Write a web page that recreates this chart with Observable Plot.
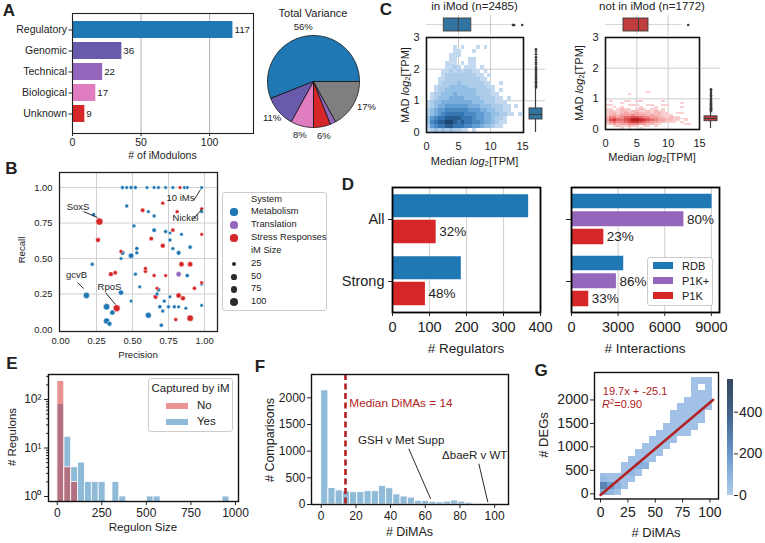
<!DOCTYPE html>
<html><head><meta charset="utf-8">
<script src="https://cdn.jsdelivr.net/npm/d3@7"></script>
<script src="https://cdn.jsdelivr.net/npm/@observablehq/plot@0.6"></script>
<style>
html,body{margin:0;padding:0;background:#fff;}
#fig{position:relative;width:765px;height:543px;overflow:hidden;background:#fff;font-family:'Liberation Sans',Arial,Helvetica,sans-serif;color:#222;}
.lg{position:absolute;background:#fff;border:1px solid #cccccc;border-radius:3px;box-sizing:border-box;}
.sw{position:absolute;}
sub{font-size:70%;line-height:0;vertical-align:-0.25em;}
sup{font-size:70%;line-height:0;vertical-align:0.45em;}
</style></head><body><div id="fig"></div>
<script>
// ================= DATA =================
// A: iModulon categories
const aCats = ["Regulatory","Genomic","Technical","Biological","Unknown"];
const aCounts = [117,36,22,17,9];
const aColors = ["#1f77b4","#6a5aab","#9467bd","#e07cc0","#d62728"];
// A: explained variance pie
const pieNames = ["Regulatory","Genomic","Biological","Unknown","Technical","Unexplained"];
const pieShares = [56,11,8,6,2,17];
const pieColors = ["#1f77b4","#6a5aab","#e07cc0","#d62728","#9467bd","#7f7f7f"];
const pieLabels = ["56%","11%","8%","6%","","17%"];

// B: precision / recall scatter
const bPrec = [0.43,0.46,0.49,0.52,0.60,0.65,0.68,0.73,0.78,0.83,0.86,0.88,0.98,
  0.46,0.23,0.27,0.26,0.22,0.18,
  0.42,0.43,0.42,0.49,0.51,0.53,0.53,0.52,0.55,0.42,
  0.35,0.38,0.49,0.32,0.36,0.32,0.34,0.39,
  0.57,0.61,0.65,0.71,0.81,0.98,0.98,
  0.63,0.65,0.73,0.76,0.78,0.76,0.84,0.71,0.78,0.82,0.90,0.98,
  0.59,0.59,0.65,0.73,0.84,0.90,0.82,0.88,0.98,0.98,
  0.67,0.68,0.67,0.66,0.72,0.76,0.82,0.85,0.93,
  0.69,0.75,0.79,0.82,0.87,0.98,0.71,0.61,
  0.80,0.90,0.70];
const bRec = [1,1,1,1,1,1,1,1,1,1,1,1,1,
  0.87,0.81,0.76,0.63,0.46,0.24,
  0.55,0.54,0.50,0.52,0.73,0.57,0.54,0.39,0.30,0.26,
  0.39,0.40,0.20,0.16,0.12,0.06,0.04,0.15,
  0.84,0.83,0.80,0.89,0.83,0.85,0.83,
  0.64,0.70,0.69,0.68,0.70,0.63,0.67,0.59,0.57,0.54,0.58,0.67,
  0.43,0.41,0.38,0.38,0.46,0.46,0.39,0.38,0.33,0.32,
  0.29,0.28,0.25,0.23,0.20,0.23,0.24,0.22,0.29,
  0.16,0.16,0.16,0.16,0.15,0.17,0.13,0.10,
  0.07,0.08,0.03];
const bSys = ("MMMMMMMMMSMMM"+"MMSSMM"+"SMMMMMMMMM"+"SSMMMMMS"+"SMMSSSM"+"SMMMSMMSMMMS"+"SSSSSSTMSM"+"SMMSMMSSS"+"MMMMMMMM"+"SSM").split("");
const bSize = [15,10,15,15,10,10,10,10,10,10,10,10,10,
  15,15,80,35,15,60,
  15,35,10,45,15,20,15,15,10,40,
  35,25,10,65,40,60,35,75,
  25,10,15,15,15,15,10,
  25,25,15,10,20,15,10,35,15,30,20,10,
  15,20,15,10,40,40,40,20,10,15,
  10,25,15,35,15,10,40,35,20,
  20,15,15,10,10,10,15,55,
  15,65,20];
const bSystems = ["Metabolism","Translation","Stress Responses"];
const bSysCodes = ["M","T","S"];
const bSysColors = ["#1f77b4","#9467bd","#d62728"];
const bSizeLegend = [25,50,75,100];
const bAnnText = ["10 iMs","Nickel","SoxS","gcvB","RpoS"];
const bAnnAt = [[0.833,0.93],[0.868,0.787],[0.122,0.861],[0.111,0.387],[0.34,0.298]];
const bAnnFrom = [[0.924,0.908],[0.917,0.775],[0.16,0.831],[0.118,0.331],[0.313,0.26]];
const bAnnTo = [[0.972,0.986],[0.986,0.852],[0.257,0.789],[0.16,0.289],[0.382,0.176]];

// C: 2D histograms (rows top->bottom; digit = density level) and marginal box stats
const cBinX = 0.6;
const cInRows = [
"0000000000000000000000000",
"0000000000000000000000000",
"0000000101000101000000000",
"0000000110001000000000000",
"0000001110000000000000000",
"0000001100011000000000000",
"0000011101011000000000000",
"0000011210111010000000000",
"0000112121221101000000000",
"0000122222222110100000000",
"0001122222222211000000000",
"0001222232222221100100000",
"0012223333322222110000000",
"0012233333333222210100000",
"0122333433333222211000000",
"0123334444333322221101000",
"1233444444443332221110000",
"1234455555544433322211010",
"2345566666655544332211000",
"2345677777666554433221101",
"3567788887776554432210000",
"3678899878776654432110000",
"2567788777665543321100000",
"1232323221101000000000000"];
const cInStepY = 0.125;
const cOutRows = [
"0000000000000000000000000",
"0000000000010000000000000",
"0000001000000000000000000",
"0000000000000000000000000",
"0000000000000000000000000",
"0000000000000000000000000",
"0100011011000001000000000",
"0000100000000000000010000",
"1100001110011001100000000",
"0010100001000100000010000",
"1101211012101101000000000",
"1211221221121211000000000",
"1221232232221221100110000",
"1232333433323221110000000",
"2443455665443322121100000",
"3565467897654432221211000",
"3675567998765433221101000",
"2454456776543322111010000",
"1232334443322110000001100",
"0012112110110100000000000",
"0000101001000000000000000"];
const cOutStepY = 0.0625;
const cInTop = {q1:2.7, med:4.95, q3:7.0, lo:0.0, hi:13.4};
const cInTopOut = [13.5,13.6,13.7,14.95];
const cInSide = {q1:0.41, med:0.57, q3:0.76, lo:0.0, hi:1.39};
const cInSideOut = [1.42,1.46,1.5,1.54,1.58,1.62,1.67,1.72,1.77,1.82,1.88,1.94,2.0,2.07,2.15,2.22,2.3,2.38,2.47,2.56,2.63];
const cOutTop = {q1:2.87, med:5.26, q3:6.86, lo:0.0, hi:12.2};
const cOutTopOut = [13.2];
const cOutSide = {q1:0.27, med:0.36, q3:0.43, lo:0.03, hi:0.57};
const cOutSideOut = [0.6,0.63,0.66,0.69,0.72,0.75,0.78,0.82,0.86,0.9,0.95,1.0,1.06,1.12,1.19,1.26,1.31];

// D: regulators & interactions
const dGroups = ["All","Strong"];
const dRegRDB = [368,186];
const dRegP1K = [118,89];
const dRegPct = ["32%","48%"];
const dIntRDB = [9040,3360];
const dIntP1Kp = [7230,2890];
const dIntP1K = [2080,1110];
const dIntPctP = ["80%","86%"];
const dIntPctK = ["23%","33%"];
const dSeries = ["RDB","P1K+","P1K"];
const dColors = ["#1f77b4","#9467bd","#d62728"];

// E: regulon size histogram (log counts)
const eBinStart = 1, eBinWidth = 38.6;
const eYes = [80,17,4,5,2,2,2,0,2,1,0,0,0,1,1,0,0,0,0,0,0,0,0,0,1];
const eNo  = [240,4,2,0,0,0,0,0,0,0,0,0,0,0,0,0,0,0,0,0,0,0,0,0,0];
const eSup = {1:"10⁰",10:"10¹",100:"10²"};
const eMinor = [2,3,4,5,6,7,8,9,20,30,40,50,60,70,80,90,200,300];

// F: DiMA histogram
const fBinWidth = 4.16;
const fCounts = [2140,310,265,245,230,232,250,250,350,305,190,150,130,70,65,50,40,55,75,55,35,12,12,8,5];
const fMedian = 14;
const fMedianText = "Median DiMAs = 14";
const fAnnText = ["GSH v Met Supp","ΔbaeR v WT"];
const fAnnAt = [[46.1,1200],[88.5,919]];
const fAnnFrom = [[50.5,1044],[90.9,763]];
const fAnnTo = [[63.1,107],[96.1,43]];

// G: DEGs vs DiMAs 2D histogram (column bins of 6.4 DiMAs)
const gBinW = 6.4;
const gSegs = [[0,-40,440],[1,-40,440],[2,-40,440],[3,100,660],[4,240,800],[5,380,940],[6,520,1080],
  [7,660,1220],[8,800,1360],[9,940,1500],[10,1080,1780],[11,1220,1920],[12,1220,2060],[13,1360,2480],
  [14,1500,2200],[14,2340,2480],[15,1780,2480]];
const gBaseCount = 35;
const gDense = [[0,100,240,260],[1,100,240,170],[2,100,240,90],[0,-40,100,120],[1,-40,100,80],
  [0,240,380,70],[4,380,520,70],[5,520,660,110],[6,520,660,100]];
const gSlope = 19.7, gIntercept = -25.1, gFitX = [0,103];
const gEq = "19.7x + -25.1";
const gColorDomain = [0,180,370,557];
const gColorRange = ["#aecbeb","#6d9ccf","#43658f","#34465c"];

// ================= HELPERS =================
const FONT = "'Liberation Sans', Arial, Helvetica, sans-serif";
const INK = "#222";
const BOXINK = "#3d3d3d";
const fig = document.getElementById("fig");

function mk(spec, box, m, fs) {
  const [L,T,R,B] = box, [mt,mr,mb,ml] = m;
  const svg = Plot.plot(Object.assign({}, spec, {
    width: R-L+ml+mr, height: B-T+mt+mb,
    marginTop: mt, marginRight: mr, marginBottom: mb, marginLeft: ml,
    style: {fontFamily: FONT, fontSize: fs+"px", color: INK, background: "transparent", overflow: "visible"}
  }));
  svg.style.position = "absolute";
  svg.style.left = (L-ml)+"px";
  svg.style.top = (T-mt)+"px";
  fig.appendChild(svg);
  return svg;
}
function tx(html, x, y, o = {}) {
  const d = document.createElement("div");
  d.innerHTML = html;
  const ax = o.anchor === "start" ? "0%" : o.anchor === "end" ? "-100%" : "-50%";
  d.style.cssText = `position:absolute;left:${x}px;top:${y}px;white-space:nowrap;line-height:1;font-size:${o.fs||11}px;font-weight:${o.bold?"bold":"normal"};color:${o.color||INK};transform:translate(${ax},-50%)${o.rot?` rotate(${o.rot}deg)`:""};`;
  fig.appendChild(d);
  return d;
}
function box(l, t, w, h) {
  const d = document.createElement("div");
  d.className = "lg";
  d.style.left = l+"px"; d.style.top = t+"px"; d.style.width = w+"px"; d.style.height = h+"px";
  fig.appendChild(d);
}
function sw(l, t, w, h, color, round) {
  const d = document.createElement("div");
  d.className = "sw";
  d.style.cssText = `left:${l}px;top:${t}px;width:${w}px;height:${h}px;background:${color};${round?"border-radius:50%;":""}`;
  fig.appendChild(d);
}
const num = d => String(d);

// ================= PANEL A =================
const aData = aCats.map((c,i)=>({cat:c, n:aCounts[i], col:aColors[i]}));
mk({
  x:{domain:[0,132]},
  y:{domain:aCats, paddingInner:0.21, paddingOuter:0.34, align:0.4},
  color:{type:"identity"},
  marks:[
    Plot.gridX([50,100],{stroke:"#b0b0b0",strokeOpacity:1,strokeWidth:1}),
    Plot.barX(aData,{x:"n",y:"cat",fill:"col"}),
    Plot.text(aData,{x:"n",y:"cat",text:d=>String(d.n),textAnchor:"start",dx:1.5,fontSize:9.8}),
    Plot.frame({stroke:"#222",strokeWidth:1.1}),
    Plot.axisX({ticks:[0,50,100],tickSize:3,tickPadding:2,label:null}),
    Plot.axisY({tickSize:3.5,tickPadding:2,label:null})
  ]
},[72,13,253,133],[5,25,20,70],10.5);
tx("# of iModulons",162.5,155,{fs:10.5});

// pie
const pieTotal = d3.sum(pieShares);
let pieCum = 0;
const pieMarks = [], pieLab = [];
pieShares.forEach((v,i)=>{
  const a0 = pieCum/pieTotal*2*Math.PI; pieCum += v; const a1 = pieCum/pieTotal*2*Math.PI;
  const n = Math.max(2, Math.ceil((a1-a0)/0.03));
  const pts = [{x:0,y:0}];
  for (let j=0;j<=n;j++){ const a=a0+(a1-a0)*j/n; pts.push({x:Math.cos(a),y:Math.sin(a)}); }
  pts.push({x:0,y:0});
  pieMarks.push(Plot.line(pts,{x:"x",y:"y",fill:pieColors[i],stroke:"#111",strokeWidth:0.8,strokeLinejoin:"miter"}));
  if (pieLabels[i]) {
    const am = (a0+a1)/2, right = Math.cos(am) > 0.5, rr = right ? 1.1 : 1.2;
    pieLab.push({x:rr*Math.cos(am), y:rr*Math.sin(am), t:pieLabels[i], right});
  }
});
mk({
  x:{domain:[-1,1],axis:null}, y:{domain:[-1,1],axis:null},
  marks:[...pieMarks,
    Plot.text(pieLab.filter(d=>!d.right),{x:"x",y:"y",text:"t",fontSize:9.5}),
    Plot.text(pieLab.filter(d=>d.right),{x:"x",y:"y",text:"t",textAnchor:"start",fontSize:9.5})]
},[267,35,359,127],[30,40,20,30],9.5);
tx("Total Variance",313,13,{fs:11});

// ================= PANEL B =================
const bData = bPrec.map((p,i)=>({p, r:bRec[i], s:bSys[i], z:bSize[i]}));
const bAnn = bAnnText.map((t,i)=>({t, tx:bAnnAt[i][0], ty:bAnnAt[i][1], x1:bAnnFrom[i][0], y1:bAnnFrom[i][1], x2:bAnnTo[i][0], y2:bAnnTo[i][1]}));
const bTicks = [0,0.25,0.5,0.75,1];
const bRScale = d3.scaleLinear().domain([1,100]).range([1.6,4.1]);
mk({
  x:{domain:[-0.007,1.09]}, y:{domain:[-0.014,1.106]},
  r:{type:"linear",domain:[1,100],range:[1.6,4.1]},
  color:{domain:bSysCodes, range:bSysColors},
  marks:[
    Plot.gridX([0.25,0.5,0.75,1],{stroke:"#d0d0d0",strokeOpacity:1,strokeWidth:1}),
    Plot.gridY([0.25,0.5,0.75,1],{stroke:"#d0d0d0",strokeOpacity:1,strokeWidth:1}),
    Plot.dot(bData,{x:"p",y:"r",r:"z",fill:"s",stroke:"#fff",strokeWidth:0.5}),
    Plot.link(bAnn,{x1:"x1",y1:"y1",x2:"x2",y2:"y2",stroke:"#111",strokeWidth:0.9}),
    Plot.text(bAnn,{x:"tx",y:"ty",text:"t",fontSize:9.5}),
    Plot.frame({stroke:"#222",strokeWidth:1.3}),
    Plot.axisX({ticks:bTicks,tickFormat:d3.format(".2f"),tickSize:0,tickPadding:6,label:null}),
    Plot.axisY({ticks:bTicks,tickFormat:d3.format(".2f"),tickSize:0,tickPadding:7,label:null})
  ]
},[59,172,217,331],[5,5,25,45],9.4);
tx("Recall",22,250,{fs:9.6,rot:-90});
tx("Precision",138,355,{fs:9.6});
// legend B
box(222,192,105,119);
tx("System",251,200,{fs:9.3,anchor:"start"});
bSystems.forEach((s,i)=>{ sw(234-3.6,212+13*i-3.6,7.2,7.2,bSysColors[i],true); tx(s,251,212+13*i,{fs:9.3,anchor:"start"}); });
tx("iM Size",251,251,{fs:9.3,anchor:"start"});
bSizeLegend.forEach((s,i)=>{ const r=bRScale(s); sw(234-r,264+12.7*i-r,2*r,2*r,"#2b2b2b",true); tx(String(s),251,264+12.7*i,{fs:9.3,anchor:"start"}); });

// ================= PANEL C =================
function cCells(rows, stepY) {
  const out = [];
  rows.forEach((s, ri) => {
    const j = rows.length - 1 - ri;
    for (let i = 0; i < s.length; i++) { const v = +s[i]; if (v > 0) out.push({x1:i*cBinX, x2:(i+1)*cBinX, y1:j*stepY, y2:(j+1)*stepY, v}); }
  });
  return out;
}
function cMain(cells, xd, bx, range) {
  mk({
    x:{domain:xd}, y:{domain:[0,3]},
    color:{type:"linear",domain:[1,3,5,7,9],range},
    marks:[
      Plot.gridX([5,10],{stroke:"#cccccc",strokeOpacity:1,strokeWidth:1}),
      Plot.gridY([1,2],{stroke:"#cccccc",strokeOpacity:1,strokeWidth:1}),
      Plot.rect(cells,{x1:"x1",x2:"x2",y1:"y1",y2:"y2",fill:"v",shapeRendering:"crispEdges"}),
      Plot.frame({stroke:"#111",strokeWidth:1.6}),
      Plot.axisX({ticks:[0,5,10,15],tickFormat:num,tickSize:0,tickPadding:10,label:null}),
      Plot.axisY({ticks:[0,1,2,3],tickFormat:num,tickSize:0,tickPadding:7,label:null})
    ]
  }, bx, [5,5,25,30], 11);
}
function cTop(st, outl, xd, bx, fill) {
  const row = [Object.assign({k:"m"}, st)];
  mk({
    x:{domain:xd,axis:null}, y:{domain:["m"],axis:null,padding:0.1765},
    marks:[
      Plot.gridX([5,10],{stroke:"#cccccc",strokeOpacity:1,strokeWidth:1}),
      Plot.barX(row,{x1:"lo",x2:"hi",y:"k",fill:BOXINK,insetTop:6.4,insetBottom:6.4}),
      Plot.barX(row,{x1:"q1",x2:"q3",y:"k",fill,stroke:BOXINK,strokeWidth:0.9}),
      Plot.tickX(row,{x:"med",y:"k",stroke:BOXINK,strokeWidth:1.1}),
      Plot.dot(outl,{x:d=>d,y:()=>"m",r:1.3,fill:BOXINK,stroke:"none"})
    ]
  }, bx, [0,0,0,0], 10);
}
function cSide(st, outl, bx, fill) {
  const row = [Object.assign({k:"m"}, st)];
  mk({
    y:{domain:[0,3],axis:null}, x:{domain:["m"],axis:null,padding:0.212},
    marks:[
      Plot.gridY([1,2],{stroke:"#cccccc",strokeOpacity:1,strokeWidth:1}),
      Plot.barY(row,{y1:"lo",y2:"hi",x:"k",fill:BOXINK,insetLeft:5.9,insetRight:5.9}),
      Plot.barY(row,{y1:"q1",y2:"q3",x:"k",fill,stroke:BOXINK,strokeWidth:0.9}),
      Plot.tickY(row,{y:"med",x:"k",stroke:BOXINK,strokeWidth:1.1}),
      Plot.dot(outl,{y:d=>d,x:()=>"m",r:1.3,fill:BOXINK,stroke:"none"})
    ]
  }, bx, [0,0,0,0], 10);
}
const blueRamp = ["#c3d9ef","#94bfe4","#5d9bd2","#3576b3","#1d4672"];
const redRamp = ["#f9d0d0","#f3a3a3","#e86a6a","#d63a3a","#b01f1f"];
cMain(cCells(cInRows,cInStepY),[0,15.15],[426,37,523,132],blueRamp);
cTop(cInTop,cInTopOut,[0,15.15],[426,15,523,35],"#3274a1");
cSide(cInSide,cInSideOut,[525,37,545,132],"#3274a1");
cMain(cCells(cOutRows,cOutStepY),[0,15.0],[605,37,699,129],redRamp);
cTop(cOutTop,cOutTopOut,[0,15.0],[605,15,699,35],"#c03d3e");
cSide(cOutSide,cOutSideOut,[700,37,720,129],"#c03d3e");
tx("in iMod (n=2485)",474.5,7,{fs:11.5});
tx("not in iMod (n=1772)",652,7,{fs:11.5});
tx("MAD <i>log</i><sub>2</sub>[TPM]",405,85,{fs:11,rot:-90});
tx("MAD <i>log</i><sub>2</sub>[TPM]",579,83,{fs:11,rot:-90});
tx("Median <i>log</i><sub>2</sub>[TPM]",474.5,161,{fs:11});
tx("Median <i>log</i><sub>2</sub>[TPM]",652,157,{fs:11});

// ================= PANEL D =================
const dL = dGroups.map((g,i)=>({g, rdb:dRegRDB[i], p1k:dRegP1K[i], pct:dRegPct[i]}));
mk({
  x:{domain:[0,400]}, y:{domain:dGroups,padding:0},
  marks:[
    Plot.gridX([100,200,300],{stroke:"#d4d4d4",strokeOpacity:1,strokeWidth:1.2}),
    Plot.barX(dL,{x:"rdb",y:"g",fill:dColors[0],insetTop:6.25,insetBottom:32.75}),
    Plot.barX(dL,{x:"p1k",y:"g",fill:dColors[2],insetTop:31.75,insetBottom:6.75}),
    Plot.text(dL,{x:"p1k",y:"g",text:"pct",dx:3,dy:12.5,textAnchor:"start",fontSize:13.5}),
    Plot.frame({stroke:"#000",strokeWidth:1.8}),
    Plot.axisX({ticks:[0,100,200,300,400],tickSize:4,tickPadding:5,label:null}),
    Plot.axisY({tickSize:4,tickPadding:4,label:null})
  ]
},[392,187,540,312],[5,10,25,50],14.5);
const dR = dGroups.map((g,i)=>({g, rdb:dIntRDB[i], pp:dIntP1Kp[i], pk:dIntP1K[i], tp:dIntPctP[i], tk:dIntPctK[i]}));
mk({
  x:{domain:[0,9520]}, y:{domain:dGroups,padding:0},
  marks:[
    Plot.gridX([3000,6000,9000],{stroke:"#d4d4d4",strokeOpacity:1,strokeWidth:1.2}),
    Plot.barX(dR,{x:"rdb",y:"g",fill:dColors[0],insetTop:5.75,insetBottom:41.75}),
    Plot.barX(dR,{x:"pp",y:"g",fill:dColors[1],insetTop:23.25,insetBottom:23.75}),
    Plot.barX(dR,{x:"pk",y:"g",fill:dColors[2],insetTop:40.75,insetBottom:5.75}),
    Plot.text(dR,{x:"pp",y:"g",text:"tp",dx:3,dy:0,textAnchor:"start",fontSize:13.5}),
    Plot.text(dR,{x:"pk",y:"g",text:"tk",dx:3,dy:17.5,textAnchor:"start",fontSize:13.5}),
    Plot.frame({stroke:"#000",strokeWidth:1.8}),
    Plot.axisX({ticks:[0,3000,6000,9000],tickFormat:num,tickSize:4,tickPadding:5,label:null}),
    Plot.axisY({tickSize:5,tickFormat:()=>"",label:null})
  ]
},[571,187,719,312],[5,10,25,20],14.5);
tx("# Regulators",466,349,{fs:13.5});
tx("# Interactions",645,349,{fs:13.5});
box(647,257,66,49);
dSeries.forEach((s,i)=>{ sw(653,262+15*i,20,6.5,dColors[i]); tx(s,682,265.5+15*i,{fs:11,anchor:"start"}); });

// ================= PANEL E =================
const eRows = arr => arr.map((n,i)=>({x1:eBinStart+i*eBinWidth, x2:eBinStart+(i+1)*eBinWidth, n})).filter(d=>d.n>0);
mk({
  x:{domain:[-49,1017]}, y:{type:"log",domain:[0.789,327]},
  marks:[
    Plot.rect(eRows(eYes),{x1:"x1",x2:"x2",y1:0.5,y2:"n",fill:"#1f77b4",fillOpacity:0.5,stroke:"#fff",strokeWidth:0.8,clip:true}),
    Plot.rect(eRows(eNo),{x1:"x1",x2:"x2",y1:0.5,y2:"n",fill:"#d62728",fillOpacity:0.5,stroke:"#fff",strokeWidth:0.8,clip:true}),
    Plot.frame({stroke:"#111",strokeWidth:1.4}),
    Plot.axisX({ticks:[0,250,500,750,1000],tickFormat:num,tickSize:4,tickPadding:3,label:null}),
    Plot.axisY({ticks:[1,10,100],tickFormat:d=>eSup[d],tickSize:4,tickPadding:3,label:null}),
    Plot.axisY({ticks:eMinor,tickSize:2,tickFormat:()=>"",label:null})
  ]
},[48,374,238,501],[5,5,30,40],12);
tx("# Regulons",13,437,{fs:11.5,rot:-90});
tx("Regulon Size",143,528,{fs:11.5});
box(148,378,85,54);
tx("Captured by iM",190.5,389,{fs:11.5});
sw(166,403,22,6,"rgba(214,39,40,0.5)"); tx("No",197,406,{fs:11.5,anchor:"start"});
sw(166,419,22,6,"rgba(31,119,180,0.5)"); tx("Yes",197,422,{fs:11.5,anchor:"start"});

// ================= PANEL F =================
const fRows = fCounts.map((n,i)=>({x1:i*fBinWidth, x2:(i+1)*fBinWidth, n}));
const fAnn = fAnnText.map((t,i)=>({t, tx:fAnnAt[i][0], ty:fAnnAt[i][1], x1:fAnnFrom[i][0], y1:fAnnFrom[i][1], x2:fAnnTo[i][0], y2:fAnnTo[i][1]}));
mk({
  x:{domain:[-5.6,108]}, y:{domain:[0,2437]},
  marks:[
    Plot.rectY(fRows,{x1:"x1",x2:"x2",y:"n",fill:"#1f77b4",fillOpacity:0.5,stroke:"#fff",strokeWidth:0.9}),
    Plot.ruleX([fMedian],{stroke:"#b22222",strokeWidth:2.6,strokeDasharray:"6,3.5"}),
    Plot.text([fMedianText],{x:16.2,y:1894,text:d=>d,textAnchor:"start",fill:"#b22222",fontSize:11.8}),
    Plot.link(fAnn,{x1:"x1",y1:"y1",x2:"x2",y2:"y2",stroke:"#111",strokeWidth:0.9}),
    Plot.text(fAnn,{x:"tx",y:"ty",text:"t",fontSize:11.5}),
    Plot.frame({stroke:"#111",strokeWidth:1.4}),
    Plot.axisX({ticks:[0,20,40,60,80,100],tickSize:4,tickPadding:3,label:null}),
    Plot.axisY({ticks:[0,500,1000,1500,2000],tickFormat:num,tickSize:4,tickPadding:2,label:null})
  ]
},[311,374,508,504],[5,5,30,45],12);
tx("# Comparisons",270,440,{fs:12.5,rot:-90});
tx("# DiMAs",409.5,532,{fs:12.5});

// ================= PANEL G =================
const gCells = gSegs.map(([c,lo,hi])=>({x1:c*gBinW, x2:(c+1)*gBinW, y1:lo, y2:hi, n:gBaseCount}))
  .concat(gDense.map(([c,lo,hi,n])=>({x1:c*gBinW, x2:(c+1)*gBinW, y1:lo, y2:hi, n})));
const gFit = gFitX.map(x=>({x, y:gSlope*x+gIntercept}));
mk({
  x:{domain:[-5.5,107.8]}, y:{domain:[-110,2585]},
  color:{type:"linear",domain:gColorDomain,range:gColorRange},
  marks:[
    Plot.rect(gCells,{x1:"x1",x2:"x2",y1:"y1",y2:"y2",fill:"n",shapeRendering:"crispEdges"}),
    Plot.line(gFit,{x:"x",y:"y",stroke:"#b22222",strokeWidth:2.5}),
    Plot.text([gEq],{x:2.1,y:2190,text:d=>d,textAnchor:"start",fill:"#b22222",fontSize:11}),
    Plot.frame({stroke:"#111",strokeWidth:1.4}),
    Plot.axisX({ticks:[0,25,50,75,100],tickSize:4,tickPadding:4,label:null}),
    Plot.axisY({ticks:[0,500,1000,1500,2000],tickFormat:num,tickSize:4,tickPadding:2,label:null})
  ]
},[594,372,718,498.5],[5,5,30,50],14);
tx("<i>R</i><sup>2</sup>=0.90",602,404,{fs:11,anchor:"start",color:"#b22222"});
tx("# DEGs",543,435,{fs:13,rot:-90});
tx("# DiMAs",656,532,{fs:13});
// colorbar
const gBarSteps = d3.range(0,557,5.57).map(v=>({v, v2:v+5.9}));
mk({
  x:{domain:["c"],axis:null,padding:0}, y:{domain:[0,557]},
  color:{type:"linear",domain:gColorDomain,range:gColorRange},
  marks:[
    Plot.barY(gBarSteps,{x:()=>"c",y1:"v",y2:"v2",fill:"v",shapeRendering:"crispEdges"}),
    Plot.axisY({anchor:"right",ticks:[0,200,400],tickSize:4,tickPadding:1.5,label:null})
  ]
},[727,379,733,495],[5,40,5,5],14);

// ================= PANEL LETTERS =================
[["A",9,10],["B",11.5,167.5],["C",386,9],["D",348,184],["E",12,363],["F",260,366],["G",541,370]]
  .forEach(([s,x,y])=>tx(s,x,y,{fs:17,bold:true}));
</script></body></html>
